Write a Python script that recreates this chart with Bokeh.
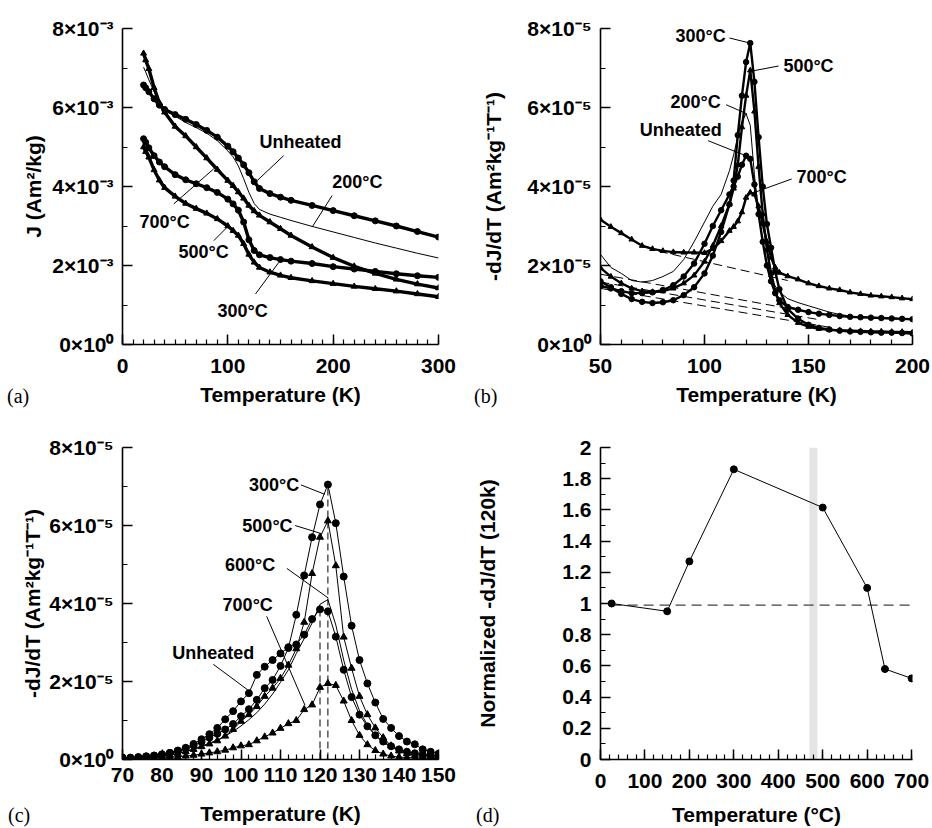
import numpy as np
from bokeh.plotting import figure
from bokeh.models import FixedTicker, Label, NumeralTickFormatter, Range1d, GridBox, Div
from bokeh.embed import file_html
from bokeh.resources import INLINE

FONT = "Liberation Sans"
SERIF = "Liberation Serif"

# ---------------- Panel (a): J (units of 1e-3 Am2/kg) vs temperature (K) ----------------
temp_a = [20, 22, 25, 30, 35, 40, 50, 60, 70, 80, 90, 100, 105, 110, 115, 120, 125, 130,
          140, 150, 160, 180, 200, 220, 240, 260, 280, 300]
j_a_unheated = [6.57, 6.50, 6.40, 6.22, 6.06, 5.95, 5.82, 5.70, 5.57, 5.42, 5.25, 5.02, 4.88, 4.72,
                4.55, 4.35, 4.12, 3.95, 3.82, 3.73, 3.65, 3.52, 3.39, 3.26, 3.13, 3.00, 2.86, 2.72]
j_a_200 = [7.02, 6.90, 6.70, 6.40, 6.15, 5.98, 5.78, 5.62, 5.49, 5.35, 5.16, 4.90, 4.75, 4.52,
           4.20, 3.85, 3.57, 3.42, 3.30, 3.22, 3.14, 2.99, 2.85, 2.71, 2.57, 2.44, 2.31, 2.19]
j_a_700 = [7.37, 7.20, 6.98, 6.50, 6.12, 5.88, 5.52, 5.28, 5.00, 4.72, 4.43, 4.15, 4.02, 3.86,
           3.70, 3.52, 3.38, 3.27, 3.10, 2.93, 2.76, 2.47, 2.20, 1.98, 1.80, 1.65, 1.53, 1.43]
j_a_300 = [5.21, 5.12, 4.98, 4.78, 4.62, 4.50, 4.30, 4.17, 4.07, 3.97, 3.85, 3.68, 3.56, 3.40,
           3.10, 2.65, 2.38, 2.27, 2.20, 2.15, 2.11, 2.05, 1.97, 1.91, 1.85, 1.79, 1.74, 1.70]
j_a_500 = [5.00, 4.88, 4.74, 4.42, 4.16, 3.97, 3.75, 3.57, 3.44, 3.32, 3.18, 3.00, 2.88, 2.76,
           2.55, 2.28, 2.08, 1.95, 1.83, 1.75, 1.69, 1.61, 1.54, 1.47, 1.41, 1.35, 1.28, 1.21]
yticks_a = [0, 2, 4, 6, 8]
ylabels_a = ["0×10⁰", "2×10⁻³", "4×10⁻³", "6×10⁻³", "8×10⁻³"]

# ---------------- Panel (b): -dJ/dT (units of 1e-5) vs temperature (K) ----------------
temp_b = [50, 55, 60, 65, 70, 75, 80, 85, 90, 95, 100, 104, 108, 112, 114, 116, 118, 120, 122,
          124, 126, 128, 130, 132, 134, 136, 140, 145, 150, 155, 160, 165, 170, 175, 180, 185,
          190, 195, 200]
d_b_unheated = [1.48, 1.42, 1.35, 1.30, 1.30, 1.32, 1.38, 1.50, 1.72, 2.05, 2.55, 3.00, 3.40,
                3.80, 4.00, 4.25, 4.55, 4.78, 4.70, 4.05, 3.30, 2.60, 2.00, 1.60, 1.30, 1.12,
                0.95, 0.88, 0.82, 0.78, 0.75, 0.72, 0.70, 0.69, 0.68, 0.67, 0.66, 0.65, 0.64]
d_b_200 = [2.28, 1.95, 1.80, 1.62, 1.58, 1.62, 1.72, 1.85, 2.15, 2.60, 3.10, 3.50, 3.80, 4.40,
           4.80, 5.25, 5.65, 5.84, 5.55, 4.30, 3.30, 2.60, 2.05, 1.70, 1.48, 1.33, 1.16, 1.06,
           0.98, 0.90, 0.82, 0.76, 0.72, 0.70, 0.69, 0.68, 0.67, 0.66, 0.65]
d_b_300 = [1.60, 1.45, 1.28, 1.15, 1.08, 1.05, 1.07, 1.12, 1.25, 1.45, 1.80, 2.25, 2.85, 3.55,
           4.15, 5.30, 6.30, 7.15, 7.63, 6.65, 5.25, 4.00, 3.05, 2.45, 1.85, 1.40, 0.90, 0.65,
           0.50, 0.42, 0.38, 0.35, 0.33, 0.32, 0.31, 0.30, 0.30, 0.29, 0.28]
d_b_500 = [1.94, 1.72, 1.55, 1.42, 1.35, 1.33, 1.35, 1.42, 1.55, 1.75, 2.10, 2.50, 3.00, 3.55,
           3.95, 4.55, 5.50, 6.30, 6.94, 5.90, 4.50, 3.30, 2.40, 1.80, 1.35, 1.05, 0.75, 0.55,
           0.45, 0.40, 0.37, 0.36, 0.35, 0.34, 0.33, 0.33, 0.32, 0.32, 0.31]
d_b_700 = [3.16, 2.98, 2.82, 2.66, 2.50, 2.42, 2.37, 2.34, 2.33, 2.33, 2.32, 2.42, 2.62, 2.88,
           2.98, 3.12, 3.35, 3.72, 3.85, 3.80, 3.50, 3.05, 2.60, 2.20, 1.95, 1.82, 1.73, 1.65,
           1.55, 1.48, 1.42, 1.38, 1.32, 1.28, 1.24, 1.22, 1.20, 1.17, 1.15]
# dashed background lines (start/end temperature, start/end value)
base_b_temp = [[78, 140], [50, 150], [50, 156], [50, 162]]
base_b_val = [[2.36, 1.62], [1.78, 0.82], [1.58, 0.62], [1.42, 0.42]]
ylabels_b = ["0×10⁰", "2×10⁻⁵", "4×10⁻⁵", "6×10⁻⁵", "8×10⁻⁵"]

# ---------------- Panel (c): -dJ/dT (units of 1e-5) vs temperature (K) ----------------
temp_c = [70, 72, 74, 76, 78, 80, 82, 84, 86, 88, 90, 92, 94, 96, 98, 100, 102, 104, 106, 108,
          110, 112, 114, 116, 118, 120, 122, 124, 126, 128, 130, 132, 134, 136, 138, 140, 142,
          144, 146, 148, 150]
c_unheated = [0.05, 0.03, 0.06, 0.08, 0.10, 0.13, 0.17, 0.23, 0.30, 0.40, 0.52, 0.65, 0.81, 1.03,
              1.24, 1.49, 1.70, 2.17, 2.38, 2.55, 2.72, 2.88, 2.95, 3.20, 3.60, 3.85, 3.80, 3.15,
              2.30, 1.60, 1.15, 0.85, 0.62, 0.46, 0.34, 0.26, 0.20, 0.16, 0.13, 0.11, 0.10]
c_300 = [0.05, 0.05, 0.06, 0.08, 0.10, 0.13, 0.17, 0.22, 0.28, 0.36, 0.45, 0.56, 0.66, 0.77,
         0.91, 1.11, 1.29, 1.53, 1.83, 2.04, 2.40, 2.86, 3.71, 4.72, 5.70, 6.54, 7.05, 6.06,
         4.69, 3.43, 2.55, 1.95, 1.46, 1.04, 0.81, 0.60, 0.46, 0.39, 0.26, 0.20, 0.15]
c_500 = [0.03, 0.03, 0.04, 0.05, 0.06, 0.08, 0.11, 0.15, 0.20, 0.26, 0.33, 0.40, 0.48, 0.60,
         0.77, 0.98, 1.15, 1.36, 1.62, 1.83, 2.08, 2.42, 2.84, 3.52, 4.77, 5.70, 6.12, 4.97,
         3.14, 2.34, 1.62, 1.15, 0.81, 0.56, 0.35, 0.22, 0.15, 0.10, 0.08, 0.06, 0.05]
c_600 = [0.03, 0.03, 0.04, 0.05, 0.07, 0.09, 0.12, 0.16, 0.21, 0.27, 0.34, 0.42, 0.50, 0.60,
         0.72, 0.86, 1.02, 1.20, 1.42, 1.68, 1.98, 2.30, 2.72, 3.10, 3.50, 3.98, 4.10, 3.45,
         2.55, 1.80, 1.25, 0.88, 0.62, 0.44, 0.32, 0.24, 0.18, 0.14, 0.11, 0.09, 0.08]
c_700 = [0.02, 0.02, 0.03, 0.03, 0.04, 0.05, 0.06, 0.07, 0.09, 0.11, 0.14, 0.17, 0.20, 0.24,
         0.30, 0.35, 0.38, 0.48, 0.58, 0.68, 0.80, 0.92, 1.00, 1.28, 1.40, 1.85, 1.95, 1.90,
         1.50, 1.00, 0.62, 0.38, 0.23, 0.14, 0.09, 0.06, 0.05, 0.04, 0.03, 0.03, 0.02]
peak_temps_c = [120, 122]

# ---------------- Panel (d): normalized -dJ/dT at 120 K vs heating temperature ----------------
temp_d = [25, 150, 200, 300, 500, 600, 640, 700]
norm_d = [1.00, 0.95, 1.27, 1.86, 1.615, 1.10, 0.58, 0.52]
band_d = [470, 488]
ref_level_d = 0.99


def make_fig(size, xr, yr, borders, ylab_standoff, xtick_standoff, xlab_standoff):
    w, h = size
    left, right, top, bottom = borders
    p = figure(width=w, height=h, x_range=Range1d(*xr), y_range=Range1d(*yr),
               output_backend="svg", toolbar_location=None,
               min_border_left=left, min_border_right=right,
               min_border_top=top, min_border_bottom=bottom)
    p.xgrid.visible = False
    p.ygrid.visible = False
    p.outline_line_color = None
    for ax in (p.xaxis[0], p.yaxis[0]):
        ax.axis_line_width = 1.6
        ax.axis_line_color = "black"
        ax.major_tick_line_width = 1.5
        ax.minor_tick_line_width = 1.2
        ax.major_tick_line_color = "black"
        ax.minor_tick_line_color = "black"
        ax.major_tick_in = 10
        ax.major_tick_out = 0
        ax.minor_tick_in = 5
        ax.minor_tick_out = 0
        ax.major_label_text_font = FONT
        ax.major_label_text_font_style = "bold"
        ax.major_label_text_font_size = "21px"
        ax.major_label_text_color = "black"
        ax.axis_label_text_font = FONT
        ax.axis_label_text_font_style = "bold"
        ax.axis_label_text_font_size = "21px"
        ax.axis_label_text_color = "black"
    p.xaxis.major_label_standoff = xtick_standoff
    p.yaxis.major_label_standoff = 9
    p.xaxis.axis_label_standoff = xlab_standoff
    p.yaxis.axis_label_standoff = ylab_standoff
    return p


def panel_tag(text, left, top):
    return Div(text=text, width=40, height=24, margin=(top, 0, 0, left),
               styles={"font-family": SERIF, "font-size": "20px", "color": "black",
                       "line-height": "24px"})


def annotate(p, text, tx, ty, lx, ly):
    p.line(lx, ly, line_color="black", line_width=1)
    p.add_layout(Label(x=tx, y=ty, text=text, text_font=FONT, text_font_style="bold",
                       text_font_size="18px", text_align="center", text_baseline="middle",
                       text_color="black"))


def beads(p, x, y, marker, size, lw):
    p.line(x, y, line_color="black", line_width=lw)
    p.scatter(x, y, marker=marker, size=size, fill_color="black", line_color="black")


# ---------------- (a) ----------------
pa = make_fig((466, 414), (0, 300), (0, 8), (122, 28, 28, 70), 4, 14, 7)
pa.xaxis.ticker = FixedTicker(ticks=[0, 100, 200, 300], minor_ticks=list(range(0, 301, 10)))
pa.yaxis.ticker = FixedTicker(ticks=yticks_a, minor_ticks=[1, 3, 5, 7])
pa.yaxis.major_label_overrides = dict(zip(yticks_a, ylabels_a))
pa.xaxis.axis_label = "Temperature (K)"
pa.yaxis.axis_label = "J (Am²/kg)"
pa.line(temp_a, j_a_200, line_color="black", line_width=1)
beads(pa, temp_a, j_a_unheated, "circle", 6, 3.4)
beads(pa, temp_a, j_a_700, "triangle", 6, 3.4)
beads(pa, temp_a, j_a_300, "circle", 6, 3.4)
beads(pa, temp_a, j_a_500, "triangle", 6, 3.4)
annotate(pa, "Unheated", 169, 5.12, [153, 127.9], [4.78, 4.15])
annotate(pa, "200°C", 223, 4.11, [199, 180], [3.77, 2.97])
annotate(pa, "700°C", 40, 3.10, [48.7, 86.7], [3.56, 4.45])
annotate(pa, "500°C", 77, 2.34, [86.7, 100.9], [2.63, 3.01])
annotate(pa, "300°C", 114, 0.86, [126.3, 148.4], [1.28, 2.08])

# ---------------- (b) ----------------
pb = make_fig((465, 414), (50, 200), (0, 8), (134, 17, 28, 70), 19, 14, 7)
pb.xaxis.ticker = FixedTicker(ticks=[50, 100, 150, 200], minor_ticks=list(range(50, 201, 10)))
pb.yaxis.ticker = FixedTicker(ticks=yticks_a, minor_ticks=[1, 3, 5, 7])
pb.yaxis.major_label_overrides = dict(zip(yticks_a, ylabels_b))
pb.xaxis.axis_label = "Temperature (K)"
pb.yaxis.axis_label = "-dJ/dT (Am²kg⁻¹T⁻¹)"
for bt, bv in zip(base_b_temp, base_b_val):
    pb.line(bt, bv, line_color="black", line_width=1, line_dash="9 5")
pb.line(temp_b, d_b_200, line_color="black", line_width=1)
beads(pb, temp_b, d_b_700, "triangle", 5.5, 2.4)
beads(pb, temp_b, d_b_unheated, "circle", 5.5, 2.4)
beads(pb, temp_b, d_b_500, "triangle", 5.5, 2.4)
beads(pb, temp_b, d_b_300, "circle", 5.5, 2.4)
annotate(pb, "300°C", 98.1, 7.82, [112, 121.9], [7.76, 7.63])
annotate(pb, "500°C", 150, 7.05, [135.6, 122.5], [7.05, 6.92])
annotate(pb, "200°C", 95.7, 6.13, [110.4, 120.4], [6.07, 5.84])
annotate(pb, "Unheated", 88.6, 5.43, [101.7, 119.9], [5.16, 4.78])
annotate(pb, "700°C", 156.3, 4.24, [141.9, 124], [4.19, 3.85])

# ---------------- (c) ----------------
pc = make_fig((466, 414), (70, 150), (0, 8), (122, 27, 33, 66), 2, 8, 17)
pc.xaxis.ticker = FixedTicker(ticks=list(range(70, 151, 10)), minor_ticks=list(range(70, 151, 2)))
pc.yaxis.ticker = FixedTicker(ticks=yticks_a, minor_ticks=[1, 3, 5, 7])
pc.yaxis.major_label_overrides = dict(zip(yticks_a, ylabels_b))
pc.xaxis.axis_label = "Temperature (K)"
pc.yaxis.axis_label = "-dJ/dT (Am²kg⁻¹T⁻¹)"
for t, top in zip(peak_temps_c, [max(c_unheated), max(c_300)]):
    pc.line([t, t], [0, top], line_color="black", line_width=1, line_dash="7 4")
pc.line(temp_c, c_600, line_color="black", line_width=1)
beads(pc, temp_c, c_700, "triangle", 7, 1)
beads(pc, temp_c, c_500, "triangle", 7, 1)
beads(pc, temp_c, c_unheated, "circle", 7, 1)
beads(pc, temp_c, c_300, "circle", 7, 1)
annotate(pc, "300°C", 108.4, 7.05, [115.2, 121.2], [7.04, 6.80])
annotate(pc, "500°C", 106.7, 6.00, [113.7, 120.4], [6.00, 5.79])
annotate(pc, "600°C", 102.3, 4.98, [111.6, 122.1], [4.90, 4.14])
annotate(pc, "700°C", 101.7, 3.97, [106.5, 116.2], [3.67, 1.39])
annotate(pc, "Unheated", 93.0, 2.74, [93.0, 101.9], [2.44, 1.77])

# ---------------- (d) ----------------
pd_ = make_fig((465, 414), (0, 702), (0, 2), (134, 19, 32, 66), 60, 14, 12)
pd_.xaxis.ticker = FixedTicker(ticks=list(range(0, 701, 100)), minor_ticks=list(range(0, 701, 20)))
pd_.yaxis.ticker = FixedTicker(ticks=[round(0.2 * i, 1) for i in range(11)],
                               minor_ticks=[round(0.1 * i, 1) for i in range(21)])
pd_.yaxis.formatter = NumeralTickFormatter(format="0.[0]")
pd_.xaxis.axis_label = "Temperature (°C)"
pd_.yaxis.axis_label = "Normalized -dJ/dT (120k)"
pd_.quad(left=band_d[0], right=band_d[1], bottom=0, top=2, fill_color="#e4e4e4",
         line_color=None, level="underlay")
pd_.line([temp_d[0], 702], [ref_level_d, ref_level_d], line_color="#444444", line_width=1.2,
         line_dash="10 6")
pd_.line(temp_d, norm_d, line_color="black", line_width=1)
pd_.scatter(temp_d, norm_d, marker="circle", size=7, fill_color="black", line_color="black")

tag_a = panel_tag("(a)", 7, 384)
tag_b = panel_tag("(b)", 8, 384)
tag_c = panel_tag("(c)", 8, 389)
tag_d = panel_tag("(d)", 10, 389)

grid = GridBox(children=[(pa, 0, 0), (tag_a, 0, 0), (pb, 0, 1), (tag_b, 0, 1),
                         (pc, 1, 0), (tag_c, 1, 0), (pd_, 1, 1), (tag_d, 1, 1)])
open("out.html", "w").write(file_html(grid, INLINE))
